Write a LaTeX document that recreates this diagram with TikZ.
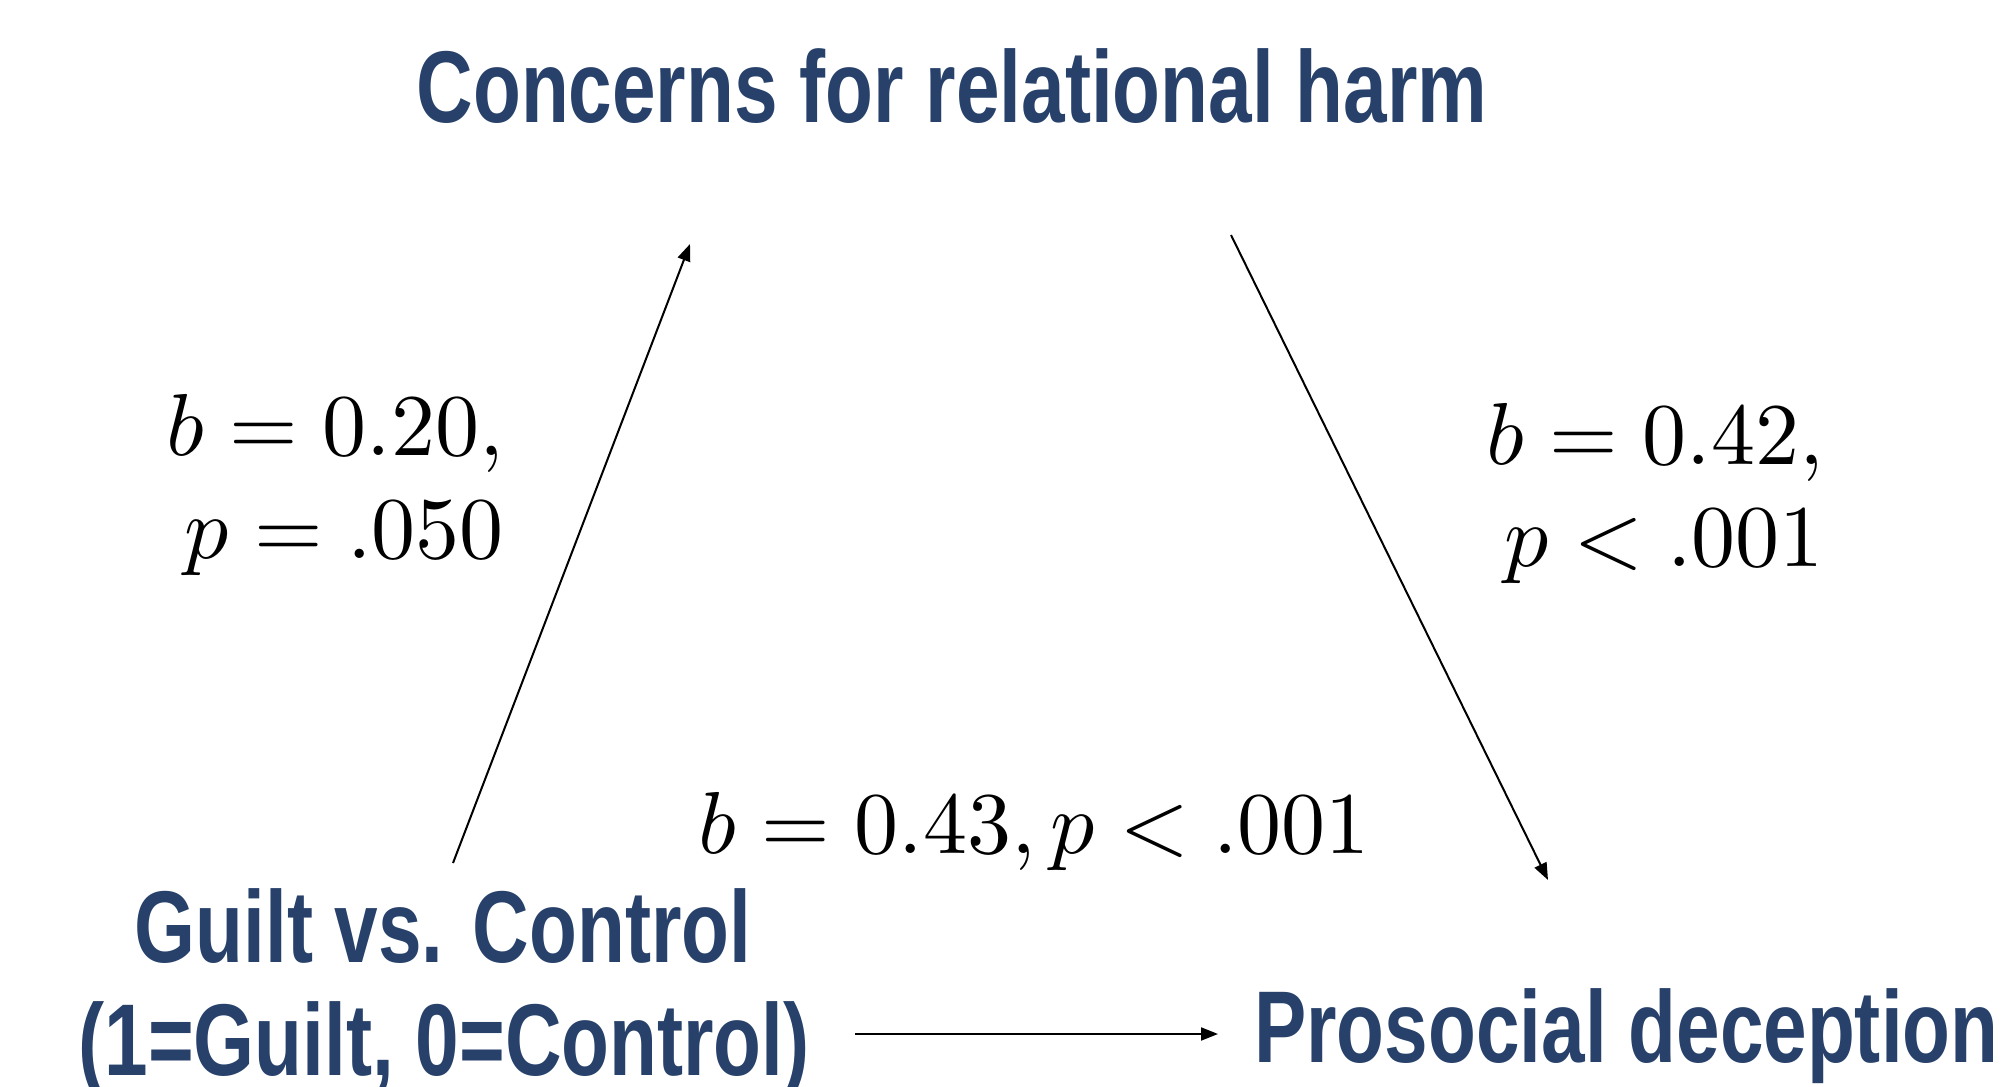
\documentclass[tikz,border=0pt]{standalone}
\usepackage{fontspec}
\usepackage{unicode-math}
\newfontfamily\condfont[FakeStretch=0.768]{Liberation Sans Bold}
\usetikzlibrary{arrows.meta}
\definecolor{navy}{RGB}{39,65,107}
\begin{document}
\begin{tikzpicture}[x=1pt,y=-1pt,
  varbox/.style={font=\condfont\fontsize{102}{113}\selectfont, text=navy, inner sep=0pt, anchor=base},
  stat/.style={font=\fontsize{88}{103}\selectfont, inner sep=0pt},
  pathline/.style={line width=2pt, -{Triangle[length=17pt,width=13pt]}}]
\useasboundingbox (0,0) rectangle (2011,1087);
% variables
\node[varbox] (med) at (952,122) {Concerns for relational harm};
\node[varbox] (iv1) at (443,962) {Guilt vs. Control};
\node[varbox] (iv2) at (444,1075) {(1=Guilt, 0=Control)};
\node[varbox, anchor=base west] (dv) at (1254,1062) {Prosocial deception};
% coefficients
\node[stat, anchor=base east] (a1) at (504,455) {$b=0.20,$};
\node[stat, anchor=base east] (a2) at (504,558) {$p=.050$};
\node[stat, anchor=base east] (b1) at (1824,464) {$b=0.42,$};
\node[stat, anchor=base east] (b2) at (1824,566) {$p<.001$};
\node[stat, anchor=base] (c1) at (1034,853) {$b=0.43,p<.001$};
% arrow end points
\coordinate (aS) at (453,863);
\coordinate (aE) at (690,244);
\coordinate (bS) at (1231,235);
\coordinate (bE) at (1548,880);
\coordinate (cS) at (855,1034);
\coordinate (cE) at (1218,1034);
\draw[pathline] (aS) -- (aE);
\draw[pathline] (bS) -- (bE);
\draw[pathline] (cS) -- (cE);
\end{tikzpicture}
\end{document}
